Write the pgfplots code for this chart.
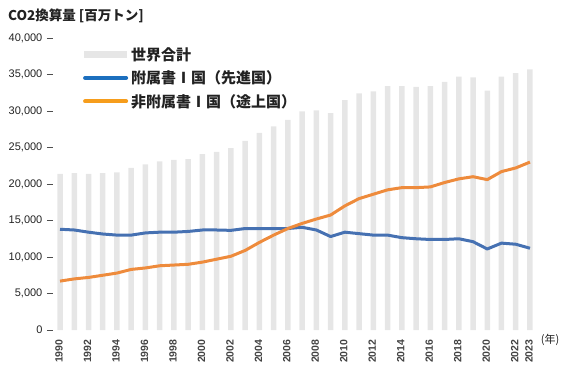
\documentclass[border=0pt]{standalone}
\usepackage{fontspec}
\setmainfont{Liberation Sans}
\newfontfamily\cjk{Noto Sans CJK JP}
\usepackage{pgfplots}
\usepackage{pgfplotstable}
\pgfplotsset{compat=1.18}
\definecolor{bargray}{HTML}{E6E6E6}
\definecolor{lblue}{HTML}{4671B2}
\definecolor{lorange}{HTML}{EE8B3C}
\definecolor{legblue}{HTML}{1C6FBE}
\definecolor{legorange}{HTML}{F69D1C}
\definecolor{txt}{HTML}{222222}

\pgfplotstableread{
year world annex nonannex
1990 21.4 13.8 6.7
1991 21.5 13.7 7.0
1992 21.4 13.4 7.2
1993 21.5 13.15 7.5
1994 21.6 13.0 7.8
1995 22.2 13.0 8.3
1996 22.7 13.3 8.5
1997 23.1 13.4 8.8
1998 23.3 13.4 8.9
1999 23.4 13.5 9.0
2000 24.1 13.7 9.3
2001 24.4 13.7 9.7
2002 24.9 13.65 10.1
2003 25.9 13.9 10.9
2004 27.0 13.9 12.0
2005 27.9 13.9 13.0
2006 28.8 13.9 13.9
2007 29.96 14.07 14.6
2008 30.1 13.7 15.2
2009 29.7 12.8 15.75
2010 31.5 13.4 17.0
2011 32.4 13.2 18.0
2012 32.7 13.0 18.6
2013 33.4 13.0 19.2
2014 33.4 12.65 19.5
2015 33.3 12.5 19.5
2016 33.4 12.4 19.6
2017 34.0 12.4 20.2
2018 34.7 12.5 20.7
2019 34.6 12.1 21.0
2020 32.8 11.1 20.6
2021 34.7 11.9 21.7
2022 35.2 11.75 22.2
2023 35.7 11.2 23.0
}\datatable

\begin{document}
\begin{tikzpicture}
\useasboundingbox (-52.9pt,-48pt) rectangle (514.1pt,330pt);
\begin{axis}[
  scale only axis, clip=false,
  width=484.2pt, height=292pt,
  xmin=1989.5, xmax=2023.5,
  ymin=0, ymax=40000,
  axis line style={draw=none},
  ytick={0,5000,...,40000},
  xtick={1990,1992,1994,1996,1998,2000,2002,2004,2006,2008,2010,2012,2014,2016,2018,2020,2022,2023},
  ytick pos=left, xtick pos=bottom,
  tick align=outside,
  major tick length=6pt,
  ytick style={draw=txt!80, line width=0.9pt},
  xtick style={draw=none},
  scaled y ticks=false,
  /pgf/number format/assume math mode=true,
  yticklabel style={/pgf/number format/fixed, /pgf/number format/1000 sep={,},
    font=\fontsize{11}{12}\selectfont, text=txt, xshift=-1pt},
  xticklabel style={/pgf/number format/1000 sep={}, rotate=90, anchor=east,
    font=\bfseries\fontsize{10.5}{11}\selectfont, text=txt!85, yshift=1pt},
  legend style={at={(axis description cs:0.062,0.972)}, anchor=north west,
    draw=none, fill=none, inner sep=0pt, row sep=7pt,
    font=\cjk\bfseries\fontsize{15}{16}\selectfont, text=txt,
    nodes={inner xsep=3pt, inner ysep=1pt}},
  legend cell align=left,
]
\addplot[ybar, bar width=5.5pt, fill=bargray, draw=none,
  legend image code/.code={\fill[bargray] (0pt,-3.4pt) rectangle (43pt,3.4pt);}]
  table[x=year, y expr=\thisrow{world}*1000] {\datatable};
\addlegendentry{世界合計}
\addplot[lblue, line width=3pt, line join=round,
  legend image code/.code={\draw[legblue, line width=4pt, line cap=round] (1pt,0pt) -- (42pt,0pt);}]
  table[x=year, y expr=\thisrow{annex}*1000] {\datatable};
\addlegendentry{附属書Ⅰ国（先進国）}
\addplot[lorange, line width=3pt, line join=round,
  legend image code/.code={\draw[legorange, line width=4pt, line cap=round] (1pt,0pt) -- (42pt,0pt);}]
  table[x=year, y expr=\thisrow{nonannex}*1000] {\datatable};
\addlegendentry{非附属書Ⅰ国（途上国）}
\node[anchor=west, font=\cjk\bfseries\fontsize{13.5}{14}\selectfont, text=txt, inner sep=0pt]
  at (rel axis cs:0,1) [xshift=-45pt, yshift=22pt] {CO2換算量 [百万トン]};
\node[anchor=center, font=\cjk\fontsize{11}{12}\selectfont, text=txt, inner sep=0pt]
  at (rel axis cs:1,0) [xshift=13pt, yshift=-10pt] {(年)};
\end{axis}
\end{tikzpicture}
\end{document}
